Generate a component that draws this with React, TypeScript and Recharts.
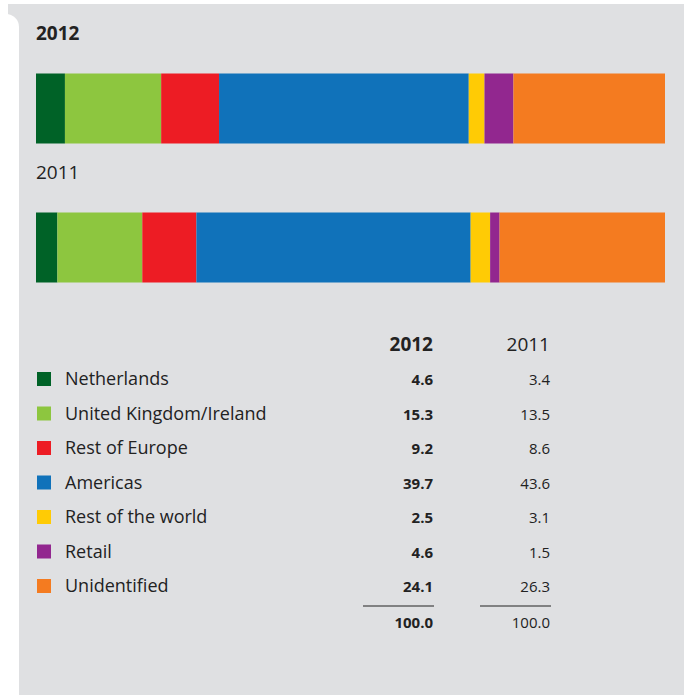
import React from 'react';
import { BarChart, Bar, XAxis, YAxis, LabelList } from 'recharts';

const years = ['2012', '2011'];
const regions = ['Netherlands', 'United Kingdom/Ireland', 'Rest of Europe', 'Americas', 'Rest of the world', 'Retail', 'Unidentified'];
const values2012 = [4.6, 15.3, 9.2, 39.7, 2.5, 4.6, 24.1];
const values2011 = [3.4, 13.5, 8.6, 43.6, 3.1, 1.5, 26.3];
const colors = ['#006227', '#8dc63f', '#ed1c24', '#1072ba', '#ffcb05', '#92278f', '#f47b20'];
const totals = ['100.0', '100.0'];

const seriesByYear: Record<string, number[]> = { '2012': values2012, '2011': values2011 };
const rows = years.map((y) => {
  const row: Record<string, string | number> = { year: y };
  regions.forEach((_, i) => { row['r' + i] = seriesByYear[y][i]; });
  return row;
});

const FONT = '"Open Sans", "Noto Sans", sans-serif';
const TEXT = '#222222';

const YearLabel = (props: any) => {
  const { x, y, value } = props;
  const bold = value === '2012';
  return (
    <text x={x} y={y - 34} fontFamily={FONT} fontSize={19} fontWeight={bold ? 700 : 400} fill={TEXT}>
      {value}
    </text>
  );
};

const Table = () => {
  const rowY0 = 385;
  const step = 34.5;
  return (
    <svg width={687} height={695} style={{ position: 'absolute', left: 0, top: 0 }}>
      <text x={433} y={351} textAnchor="end" fontFamily={FONT} fontSize={19} fontWeight={700} fill={TEXT}>{years[0]}</text>
      <text x={550} y={351} textAnchor="end" fontFamily={FONT} fontSize={19} fill={TEXT}>{years[1]}</text>
      {regions.map((r, i) => {
        const by = rowY0 + i * step;
        return (
          <g key={r}>
            <rect x={37} y={by - 13} width={14} height={14} fill={colors[i]} />
            <text x={65} y={by} fontFamily={FONT} fontSize={18} fill={TEXT}>{r}</text>
            <text x={433} y={by} textAnchor="end" fontFamily={FONT} fontSize={15} fontWeight={700} fill={TEXT}>{values2012[i].toFixed(1)}</text>
            <text x={550} y={by} textAnchor="end" fontFamily={FONT} fontSize={15} fill={TEXT}>{values2011[i].toFixed(1)}</text>
          </g>
        );
      })}
      <line x1={363} x2={434} y1={606} y2={606} stroke={TEXT} strokeWidth={1} />
      <line x1={480} x2={551} y1={606} y2={606} stroke={TEXT} strokeWidth={1} />
      <text x={433} y={628} textAnchor="end" fontFamily={FONT} fontSize={15} fontWeight={700} fill={TEXT}>{totals[0]}</text>
      <text x={550} y={628} textAnchor="end" fontFamily={FONT} fontSize={15} fill={TEXT}>{totals[1]}</text>
    </svg>
  );
};

export default function App() {
  return (
    <div style={{ position: 'absolute', left: 0, top: 0, width: 687, height: 695, background: '#ffffff', overflow: 'hidden' }}>
      <div style={{ position: 'absolute', left: 8, top: 4, width: 676, height: 691, background: '#dfe0e2' }} />
      <div style={{ position: 'absolute', left: 0, top: 14, width: 19, height: 700, background: '#ffffff', borderTopRightRadius: 13 }} />
      <div style={{ position: 'absolute', left: 0, top: 0 }}>
        <BarChart
          width={687}
          height={695}
          data={rows}
          layout="vertical"
          margin={{ top: 38.5, right: 22, left: 36, bottom: 378.5 }}
          barCategoryGap={0}
          style={{ overflow: 'visible' }}
        >
          <XAxis type="number" domain={[0, 100]} hide />
          <YAxis type="category" dataKey="year" width={0} hide />
          {regions.map((r, i) => (
            <Bar key={r} dataKey={'r' + i} name={r} stackId="a" fill={colors[i]} barSize={70} isAnimationActive={false}>
              {i === 0 ? <LabelList dataKey="year" content={<YearLabel />} /> : null}
            </Bar>
          ))}
        </BarChart>
      </div>
      <Table />
    </div>
  );
}
